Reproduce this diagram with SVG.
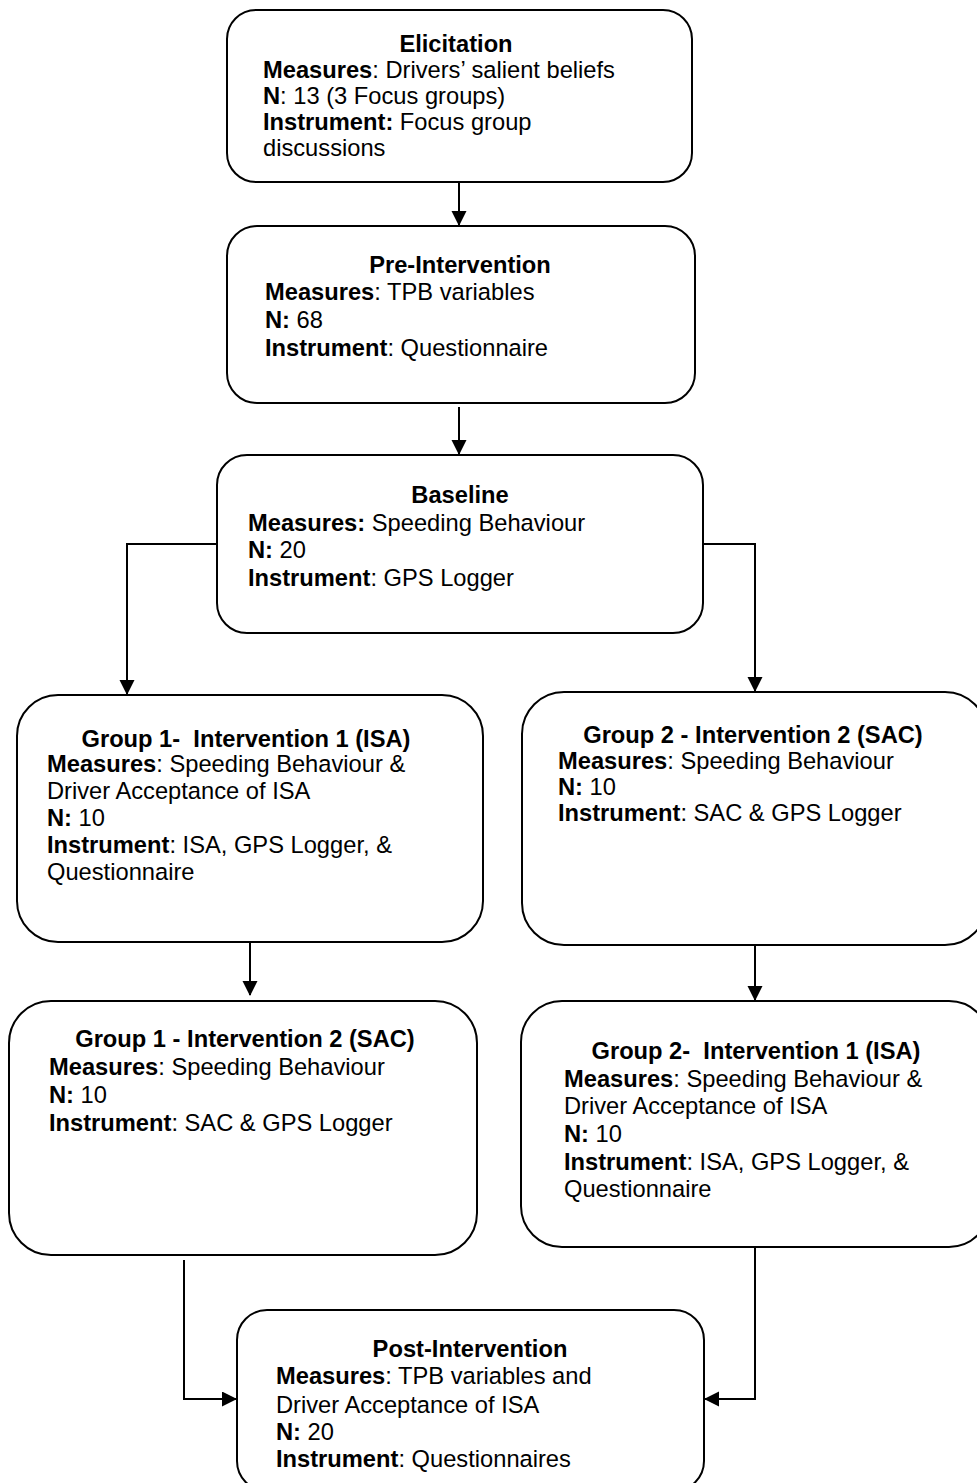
<svg xmlns="http://www.w3.org/2000/svg" width="977" height="1483" viewBox="0 0 977 1483">
  <style>
    .box { fill: #ffffff; stroke: #000000; stroke-width: 2; }
    .lbl { font-family: "Liberation Sans", Arial, sans-serif; font-size: 23.7px; fill: #000000; white-space: pre; }
    .ttl { font-weight: bold; text-anchor: middle; }
    .b { font-weight: bold; }
    .wire { fill: none; stroke: #000000; stroke-width: 2; }
  </style>
  <defs>
    <marker id="arrow" markerUnits="userSpaceOnUse" markerWidth="15" markerHeight="16" refX="14" refY="7.5" orient="auto">
      <path d="M0,0 L15,7.5 L0,15 z" fill="#000000"/>
    </marker>
  </defs>

  <rect width="977" height="1483" fill="#ffffff"/>

  <!-- connectors -->
  <g id="connectors">
    <path class="wire" d="M459,182 L459,225" marker-end="url(#arrow)"/>
    <path class="wire" d="M459,407 L459,454" marker-end="url(#arrow)"/>
    <path class="wire" d="M217,544 L127,544 L127,694" marker-end="url(#arrow)"/>
    <path class="wire" d="M703,544 L755,544 L755,691" marker-end="url(#arrow)"/>
    <path class="wire" d="M250,942 L250,995" marker-end="url(#arrow)"/>
    <path class="wire" d="M755,945 L755,1000" marker-end="url(#arrow)"/>
    <path class="wire" d="M184,1260 L184,1399 L236,1399" marker-end="url(#arrow)"/>
    <path class="wire" d="M755,1247 L755,1399 L705,1399" marker-end="url(#arrow)"/>
  </g>

  <!-- Elicitation -->
  <g id="elicitation">
    <rect class="box" x="227" y="10" width="465" height="172" rx="29" ry="29"/>
    <text class="lbl ttl" x="456" y="52">Elicitation</text>
    <text class="lbl" x="263" y="78"><tspan class="b">Measures</tspan>: Drivers’ salient beliefs</text>
    <text class="lbl" x="263" y="104"><tspan class="b">N</tspan>: 13 (3 Focus groups)</text>
    <text class="lbl" x="263" y="130"><tspan class="b">Instrument:</tspan> Focus group</text>
    <text class="lbl" x="263" y="156">discussions</text>
  </g>

  <!-- Pre-Intervention -->
  <g id="pre-intervention">
    <rect class="box" x="227" y="226" width="468" height="177" rx="30" ry="30"/>
    <text class="lbl ttl" x="460" y="273">Pre-Intervention</text>
    <text class="lbl" x="265" y="300"><tspan class="b">Measures</tspan>: TPB variables</text>
    <text class="lbl" x="265" y="328"><tspan class="b">N:</tspan> 68</text>
    <text class="lbl" x="265" y="356"><tspan class="b">Instrument</tspan>: Questionnaire</text>
  </g>

  <!-- Baseline -->
  <g id="baseline">
    <rect class="box" x="217" y="455" width="486" height="178" rx="30" ry="30"/>
    <text class="lbl ttl" x="460" y="503">Baseline</text>
    <text class="lbl" x="248" y="531"><tspan class="b">Measures:</tspan> Speeding Behaviour</text>
    <text class="lbl" x="248" y="558"><tspan class="b">N:</tspan> 20</text>
    <text class="lbl" x="248" y="586"><tspan class="b">Instrument</tspan>: GPS Logger</text>
  </g>

  <!-- Group 1, first intervention -->
  <g id="group1-isa">
    <rect class="box" x="17" y="695" width="466" height="247" rx="41" ry="41"/>
    <text class="lbl ttl" x="246" y="747">Group 1-  Intervention 1 (ISA)</text>
    <text class="lbl" x="47" y="772"><tspan class="b">Measures</tspan>: Speeding Behaviour &amp;</text>
    <text class="lbl" x="47" y="799">Driver Acceptance of ISA</text>
    <text class="lbl" x="47" y="826"><tspan class="b">N:</tspan> 10</text>
    <text class="lbl" x="47" y="853"><tspan class="b">Instrument</tspan>: ISA, GPS Logger, &amp;</text>
    <text class="lbl" x="47" y="880">Questionnaire</text>
  </g>

  <!-- Group 2, first intervention -->
  <g id="group2-sac">
    <rect class="box" x="522" y="692" width="465" height="253" rx="42" ry="42"/>
    <text class="lbl ttl" x="753" y="743">Group 2 - Intervention 2 (SAC)</text>
    <text class="lbl" x="558" y="769"><tspan class="b">Measures</tspan>: Speeding Behaviour</text>
    <text class="lbl" x="558" y="795"><tspan class="b">N:</tspan> 10</text>
    <text class="lbl" x="558" y="821"><tspan class="b">Instrument</tspan>: SAC &amp; GPS Logger</text>
  </g>

  <!-- Group 1, second intervention -->
  <g id="group1-sac">
    <rect class="box" x="9" y="1001" width="468" height="254" rx="42" ry="42"/>
    <text class="lbl ttl" x="245" y="1047">Group 1 - Intervention 2 (SAC)</text>
    <text class="lbl" x="49" y="1075"><tspan class="b">Measures</tspan>: Speeding Behaviour</text>
    <text class="lbl" x="49" y="1103"><tspan class="b">N:</tspan> 10</text>
    <text class="lbl" x="49" y="1131"><tspan class="b">Instrument</tspan>: SAC &amp; GPS Logger</text>
  </g>

  <!-- Group 2, second intervention -->
  <g id="group2-isa">
    <rect class="box" x="521" y="1001" width="469" height="246" rx="41" ry="41"/>
    <text class="lbl ttl" x="756" y="1059">Group 2-  Intervention 1 (ISA)</text>
    <text class="lbl" x="564" y="1087"><tspan class="b">Measures</tspan>: Speeding Behaviour &amp;</text>
    <text class="lbl" x="564" y="1114">Driver Acceptance of ISA</text>
    <text class="lbl" x="564" y="1142"><tspan class="b">N:</tspan> 10</text>
    <text class="lbl" x="564" y="1170"><tspan class="b">Instrument</tspan>: ISA, GPS Logger, &amp;</text>
    <text class="lbl" x="564" y="1197">Questionnaire</text>
  </g>

  <!-- Post-Intervention -->
  <g id="post-intervention">
    <rect class="box" x="237" y="1310" width="467" height="181" rx="30" ry="30"/>
    <text class="lbl ttl" x="470" y="1357">Post-Intervention</text>
    <text class="lbl" x="276" y="1384"><tspan class="b">Measures</tspan>: TPB variables and</text>
    <text class="lbl" x="276" y="1413">Driver Acceptance of ISA</text>
    <text class="lbl" x="276" y="1440"><tspan class="b">N:</tspan> 20</text>
    <text class="lbl" x="276" y="1467"><tspan class="b">Instrument</tspan>: Questionnaires</text>
  </g>
</svg>
